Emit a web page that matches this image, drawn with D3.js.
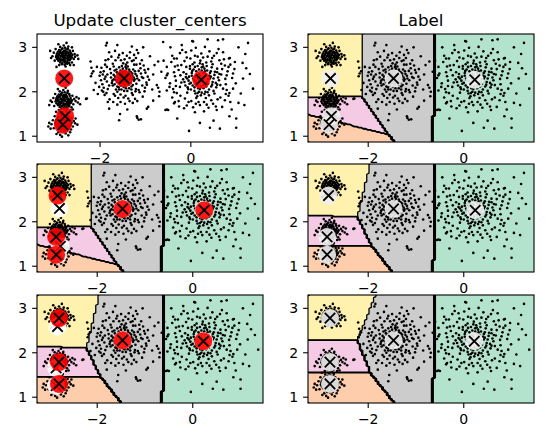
<!DOCTYPE html>
<html><head><meta charset="utf-8">
<script src="https://cdn.jsdelivr.net/npm/d3@7"></script>
<style>body{margin:0;background:#fff} svg{display:block} text{font-family:"DejaVu Sans",sans-serif;fill:#000}</style>
</head><body><svg id="chart" width="548" height="445"></svg>
<script>
// ---------------- data ----------------
const titles = ["Update cluster_centers", "Label"];
const xTicks = [-2, 0];
const yTicks = [1, 2, 3];
// Pastel2 colours for labels 0..4
const regionColors = ["#b3e2cd", "#fdcdac", "#f4cae4", "#fff2ae", "#cccccc"];
// centroids ordered by label (green, orange, pink, yellow, gray)
const centroidsIter1 = [[0.23,2.27],[-2.82,1.26],[-2.77,1.45],[-2.79,2.30],[-1.47,2.30]];
const centroidsIter2 = [[0.24,2.26],[-2.86,1.26],[-2.86,1.66],[-2.83,2.59],[-1.47,2.29]];
const centroidsIter3 = [[0.22,2.26],[-2.80,1.30],[-2.80,1.79],[-2.80,2.78],[-1.47,2.28]];

const blobTop = [[-2.83,2.98],[-2.77,2.99],[-2.71,2.97],[-2.90,2.94],[-2.85,2.95],[-2.79,2.93],[-2.74,2.95],[-2.67,2.93],
[-2.93,2.90],[-2.88,2.91],[-2.82,2.89],[-2.77,2.91],[-2.72,2.90],[-2.66,2.89],[-2.95,2.86],[-2.90,2.85],[-2.85,2.87],[-2.80,2.86],[-2.75,2.85],[-2.70,2.87],[-2.64,2.86],
[-2.96,2.82],[-2.91,2.83],[-2.86,2.81],[-2.81,2.82],[-2.76,2.83],[-2.71,2.81],[-2.66,2.82],[-2.61,2.83],[-2.97,2.78],[-2.92,2.77],[-2.87,2.79],[-2.82,2.78],[-2.77,2.77],[-2.72,2.79],[-2.67,2.78],[-2.62,2.77],
[-2.95,2.74],[-2.90,2.75],[-2.85,2.73],[-2.80,2.74],[-2.75,2.75],[-2.70,2.73],[-2.65,2.74],[-2.92,2.70],[-2.87,2.69],[-2.82,2.71],[-2.77,2.70],[-2.72,2.69],[-2.67,2.71],
[-2.88,2.66],[-2.83,2.65],[-2.78,2.67],[-2.73,2.66],[-2.68,2.65],[-2.84,2.62],[-2.78,2.61],[-2.72,2.63],
[-2.88,2.88],[-2.80,2.90],[-2.74,2.88],[-2.93,2.80],[-2.84,2.84],[-2.79,2.80],[-2.69,2.84],[-2.64,2.79],[-2.89,2.72],[-2.80,2.70],[-2.70,2.76],[-2.75,2.64],
[-3.02,2.88],[-3.05,2.80],[-3.00,2.70],[-2.98,2.96],[-2.56,2.85],[-2.58,2.74],[-2.55,2.79],[-2.60,2.92],[-2.62,2.66],[-2.70,3.02],[-2.80,3.04],[-2.88,3.01],
[-2.90,2.60],[-2.76,2.57],[-2.66,2.60],[-3.08,2.76],[-2.50,2.82],[-2.92,3.07],[-2.74,3.10],[-2.62,3.00],[-3.10,2.92],[-2.96,2.56],[-2.58,2.60],[-2.48,2.74]];

const blobMid = [[-2.84,1.98],[-2.78,1.99],[-2.72,1.98],[-2.91,1.94],[-2.86,1.95],[-2.80,1.93],[-2.75,1.94],[-2.68,1.95],
[-2.94,1.90],[-2.89,1.89],[-2.83,1.91],[-2.78,1.90],[-2.73,1.89],[-2.67,1.91],[-2.96,1.86],[-2.91,1.87],[-2.86,1.85],[-2.81,1.86],[-2.76,1.87],[-2.71,1.85],[-2.65,1.86],
[-2.97,1.82],[-2.92,1.81],[-2.87,1.83],[-2.82,1.82],[-2.77,1.81],[-2.72,1.83],[-2.67,1.82],[-2.62,1.81],[-2.98,1.78],[-2.93,1.79],[-2.88,1.77],[-2.83,1.78],[-2.78,1.79],[-2.73,1.77],[-2.68,1.78],[-2.63,1.79],
[-2.96,1.74],[-2.91,1.73],[-2.86,1.75],[-2.81,1.74],[-2.76,1.73],[-2.71,1.75],[-2.66,1.74],[-2.93,1.70],[-2.88,1.71],[-2.83,1.69],[-2.78,1.70],[-2.73,1.71],[-2.68,1.69],
[-2.89,1.66],[-2.84,1.67],[-2.79,1.65],[-2.74,1.66],[-2.69,1.67],[-2.85,1.62],[-2.79,1.61],[-2.73,1.62],
[-2.88,1.92],[-2.81,1.89],[-2.75,1.91],[-2.94,1.84],[-2.84,1.80],[-2.79,1.84],[-2.70,1.80],[-2.64,1.76],[-2.90,1.76],[-2.80,1.72],[-2.70,1.72],[-2.77,1.64],
[-3.03,1.86],[-3.06,1.77],[-3.01,1.68],[-2.99,1.95],[-2.57,1.84],[-2.59,1.72],[-2.54,1.79],[-2.61,1.91],[-2.63,1.65],[-2.71,2.02],[-2.81,2.04],[-2.89,2.01],
[-2.91,1.59],[-2.75,1.56],[-2.65,1.59],[-3.09,1.80],[-2.49,1.76],[-2.93,2.06],[-2.76,2.09],[-2.52,1.88],[-2.44,1.72],[-3.12,1.70],[-2.97,1.55],[-2.60,1.60]];

const blobLow = [[-2.85,1.48],[-2.79,1.49],[-2.73,1.47],[-2.92,1.44],[-2.86,1.45],[-2.81,1.43],[-2.75,1.44],[-2.69,1.45],
[-2.95,1.40],[-2.89,1.39],[-2.84,1.41],[-2.79,1.40],[-2.74,1.39],[-2.68,1.41],[-2.97,1.36],[-2.92,1.37],[-2.87,1.35],[-2.82,1.36],[-2.77,1.37],[-2.72,1.35],[-2.66,1.36],
[-2.98,1.32],[-2.93,1.31],[-2.88,1.33],[-2.83,1.32],[-2.78,1.31],[-2.73,1.33],[-2.68,1.32],[-2.63,1.31],[-2.99,1.28],[-2.94,1.29],[-2.89,1.27],[-2.84,1.28],[-2.79,1.29],[-2.74,1.27],[-2.69,1.28],[-2.64,1.29],
[-2.97,1.24],[-2.92,1.23],[-2.87,1.25],[-2.82,1.24],[-2.77,1.23],[-2.72,1.25],[-2.67,1.24],[-2.94,1.20],[-2.89,1.21],[-2.84,1.19],[-2.79,1.20],[-2.74,1.21],[-2.69,1.19],
[-2.90,1.16],[-2.85,1.17],[-2.80,1.15],[-2.75,1.16],[-2.70,1.17],[-2.86,1.12],[-2.80,1.11],[-2.74,1.12],
[-2.89,1.42],[-2.82,1.39],[-2.76,1.41],[-2.95,1.34],[-2.85,1.30],[-2.80,1.34],[-2.71,1.30],[-2.65,1.26],[-2.91,1.26],[-2.81,1.22],[-2.71,1.22],[-2.78,1.14],
[-3.04,1.36],[-3.07,1.27],[-3.02,1.18],[-3.09,1.17],[-2.84,0.99],[-2.58,1.34],[-2.60,1.22],[-2.55,1.29],[-2.62,1.41],[-2.64,1.15],[-2.72,1.52],[-2.82,1.54],
[-2.90,1.51],[-2.92,1.09],[-2.76,1.06],[-2.66,1.09],[-3.12,1.30],[-2.50,1.26],[-2.96,1.05],[-2.70,1.02],[-3.00,1.45],[-2.54,1.40],[-3.14,1.22],[-2.88,1.03]];

const blobCenter = [[-1.47,2.30],[-1.40,2.35],[-1.55,2.25],[-1.52,2.38],[-1.42,2.22],[-1.60,2.32],[-1.35,2.30],[-1.48,2.45],[-1.45,2.15],[-1.58,2.42],
[-1.38,2.42],[-1.56,2.18],[-1.33,2.20],[-1.66,2.27],[-1.29,2.36],[-1.50,2.52],[-1.43,2.08],[-1.70,2.38],[-1.25,2.25],[-1.62,2.12],
[-1.36,2.50],[-1.53,2.05],[-1.31,2.12],[-1.68,2.48],[-1.22,2.40],[-1.74,2.20],[-1.44,2.56],[-1.58,2.55],[-1.27,2.50],[-1.40,2.02],
[-1.65,2.05],[-1.20,2.18],[-1.76,2.32],[-1.50,2.28],[-1.44,2.33],[-1.39,2.27],[-1.54,2.33],[-1.46,2.24],[-1.49,2.37],[-1.41,2.39],
[-1.57,2.28],[-1.34,2.37],[-1.61,2.40],[-1.37,2.16],[-1.51,2.19],[-1.63,2.22],[-1.30,2.28],[-1.45,2.46],[-1.55,2.48],[-1.32,2.44],
[-1.48,2.11],[-1.59,2.10],[-1.26,2.32],[-1.70,2.28],[-1.42,2.52],[-1.36,2.08],[-1.64,2.50],[-1.23,2.46],[-1.72,2.14],[-1.52,2.58],
[-1.28,2.15],[-1.47,2.02],[-1.18,2.30],[-1.76,2.42],[-1.39,2.57],[-1.62,2.00],[-1.21,2.06],[-1.56,2.42],[-1.43,2.28],[-1.50,2.40],
[-1.46,2.34],[-1.53,2.29],[-1.41,2.31],[-1.49,2.21],[-1.57,2.36],[-1.37,2.24],[-1.44,2.41],[-1.61,2.26],[-1.33,2.33],[-1.51,2.44],
[-1.40,2.19],[-1.67,2.34],[-1.29,2.41],[-1.54,2.14],[-1.35,2.46],[-1.46,2.17],[-1.63,2.44],[-1.24,2.28],[-1.58,2.05],[-1.43,2.61],
[-1.73,2.25],[-1.31,2.05],[-1.68,2.17],[-1.19,2.36],[-1.49,2.64],
[-1.05,2.31],[-1.90,2.29],[-1.46,2.73],[-1.48,1.87],[-1.11,2.53],[-1.85,2.56],[-1.15,2.04],[-1.83,2.06],[-1.30,2.69],[-1.66,2.71],
[-1.28,1.93],[-1.67,1.91],[-1.00,2.43],[-1.95,2.17],[-1.07,2.14],[-1.92,2.46],[-1.21,2.76],[-1.75,2.79],[-1.23,1.84],[-1.79,1.83],
[-0.98,2.21],[-2.01,2.36],[-1.41,2.81],[-1.55,1.77],[-1.12,2.63],[-1.89,2.61],[-1.13,1.99],[-1.86,1.97],[-1.35,1.79],[-1.58,2.83],
[-0.95,2.34],[-1.98,2.26],[-1.04,2.59],[-1.97,2.54],[-1.02,2.01],[-1.96,2.03],[-1.25,2.83],[-1.71,1.77],[-1.18,1.79],[-1.82,2.73],
[-0.92,2.27],[-1.94,2.39],[-1.01,2.09],[-1.08,2.71],[-1.90,1.93],[-1.34,2.89],[-1.62,1.71],[-1.45,1.73],[-1.50,2.87],[-1.28,1.75],
[-1.06,1.89],[-1.80,2.89],[-1.16,2.87],[-1.88,2.71],[-0.94,2.51],[-2.02,2.11],[-1.60,1.86],[-1.38,1.85],[-1.72,2.63],[-1.20,2.61],
[-1.10,2.41],[-1.84,2.39],[-1.14,2.26],[-1.85,2.23],[-1.25,2.61],[-1.70,2.57],[-1.30,1.97],[-1.70,1.95],[-1.40,2.66],[-1.55,1.94],
[-0.97,2.16],[-1.99,2.44],[-1.22,2.01],[-1.78,2.51],[-1.02,2.49],[-1.92,2.09],[-1.35,2.76],[-1.60,2.77],[-1.44,1.91],[-1.15,2.47],
[-1.80,2.14],[-1.08,2.33],[-1.88,2.34],[-1.54,2.71],[-1.26,2.71],
[-1.87,3.04],[-1.67,2.92],[-2.15,2.46],[-2.20,2.35],[-1.58,1.36],[-1.18,1.41],[-1.15,1.37],[-2.31,1.84],[-0.90,2.80],[-0.83,2.39],
[-0.83,1.80],[-0.72,2.09],[-0.69,2.00],[-1.19,2.94],[-1.56,1.50],[-1.19,1.45],[-1.10,1.38],[-0.94,1.66],[-0.97,1.62],[-2.07,2.56],
[-1.93,2.00],[-1.83,1.77],[-2.10,2.20],[-1.30,3.02],[-1.05,3.00],[-0.80,2.60],[-1.80,1.62],[-2.05,1.95],[-0.85,2.05],[-1.62,3.05],
[-1.40,1.60],[-2.21,2.68],[-2.19,2.54],[-2.18,2.41],[-2.14,2.04],[-2.29,1.85],[-2.47,1.85],[-0.72,2.68],[-1.85,3.10]];

const blobRight = [[0.22,2.27],[0.30,2.33],[0.12,2.20],[0.18,2.40],[0.28,2.15],[0.05,2.30],[0.38,2.28],[0.24,2.48],[0.20,2.06],[0.02,2.42],
[0.42,2.42],[0.08,2.10],[0.45,2.12],[-0.05,2.25],[0.50,2.30],[0.15,2.58],[0.32,2.00],[-0.02,2.52],[0.55,2.20],[0.00,2.05],
[0.35,2.58],[0.10,1.96],[0.50,2.02],[-0.10,2.40],[0.58,2.44],[-0.12,2.14],[0.26,2.62],[0.04,2.62],[0.46,2.55],[0.22,1.92],
[0.40,1.92],[-0.08,1.98],[0.60,2.32],[0.16,2.30],[0.26,2.24],[0.20,2.36],[0.33,2.40],[0.10,2.34],[0.28,2.08],[0.14,2.14],
[0.38,2.18],[0.06,2.50],[0.44,2.34],[0.00,2.20],[0.24,2.55],[0.18,2.00],[0.52,2.38],[-0.04,2.34],[0.36,2.48],[0.12,2.46],
[0.30,1.95],[0.08,2.02],[0.48,2.22],[-0.08,2.30],[0.56,2.10],[0.20,2.64],[0.40,2.05],[-0.02,2.58],[0.58,2.52],[-0.14,2.22],
[0.14,1.90],[0.34,2.66],[0.62,2.26],[-0.16,2.44],[0.28,2.42],[0.10,2.24],[0.44,2.46],[0.04,2.14],[0.34,2.12],[0.18,2.50],
[0.24,1.98],[0.48,2.62],[-0.06,2.06],[0.52,1.96],[-0.10,2.56],[0.08,2.66],[0.40,2.36],[0.02,2.36],[0.30,2.52],[0.16,2.08],
[0.19,2.24],[0.26,2.30],[0.13,2.38],[0.35,2.22],[0.07,2.26],[0.31,2.46],[0.22,2.12],[0.42,2.30],[0.03,2.47],[0.47,2.16],
[-0.03,2.18],[0.27,2.57],[0.15,1.97],[0.53,2.45],[-0.11,2.33],[0.37,1.99],[0.09,2.56],[0.58,2.16],[0.21,2.70],[-0.07,2.10],
[0.45,2.68],[0.12,1.86],[0.63,2.40],[-0.17,2.28],[0.33,1.86],
[0.76,2.29],[-0.33,2.25],[0.23,2.86],[0.20,1.70],[0.67,2.63],[-0.21,2.60],[0.65,1.87],[-0.23,1.91],[0.51,2.81],[-0.09,2.77],
[0.49,1.73],[-0.05,1.77],[0.81,2.46],[-0.37,2.44],[0.79,2.04],[-0.39,2.06],[0.41,2.91],[0.01,2.93],[0.39,1.64],[0.05,1.65],
[0.91,2.31],[-0.46,2.19],[0.73,2.73],[-0.31,2.75],[0.75,1.81],[-0.27,1.79],[0.61,2.96],[-0.19,2.94],[0.57,1.59],[-0.15,1.63],
[0.96,2.51],[-0.51,2.41],[0.93,2.07],[-0.53,2.03],[0.31,3.01],[0.11,2.99],[0.29,1.56],[0.09,1.54],[0.87,2.61],[-0.43,2.67],
[0.83,1.91],[-0.41,1.87],[0.69,2.51],[-0.27,2.49],[0.71,2.07],[-0.24,2.11],[0.63,2.71],[-0.14,2.69],[0.59,1.83],[-0.13,1.85],
[0.79,2.37],[-0.35,2.35],[0.77,2.17],[-0.33,2.13],[0.47,2.76],[-0.01,2.75],[0.45,1.81],[0.01,1.79],[0.86,2.76],[-0.41,2.81],
[0.87,1.77],[-0.37,1.74],[0.71,2.89],[-0.24,2.87],[0.69,1.66],[-0.26,1.67],[0.99,2.19],[-0.56,2.31],[0.37,2.79],[0.09,2.81],
[0.35,1.71],[0.11,1.73],[0.83,2.56],[-0.35,2.57],[0.85,1.97],[-0.37,1.99],[0.57,2.87],[-0.11,2.89],[0.55,1.67],[-0.09,1.69],
[0.93,2.41],[-0.47,2.11],[0.67,2.39],[-0.23,2.37],[0.65,2.15],[-0.21,2.21],[0.27,2.77],[0.15,2.79],[0.29,1.77],[0.17,1.77],
[0.75,2.59],[-0.29,2.59],[0.77,1.95],[-0.31,1.97],[0.97,2.67],
[1.26,3.10],[1.37,2.07],[-0.04,1.12],[0.42,1.19],[0.64,1.17],[1.00,1.19],[0.71,3.18],[0.37,3.18],[0.05,3.13],[1.00,1.40],
[1.10,1.96],[1.22,2.53],[1.14,2.65],[0.84,2.75],[-0.61,3.12],[-0.53,1.60],[0.03,3.14],[0.60,3.16],[-0.35,1.77],[-0.37,2.75],
[1.15,2.30],[1.05,1.75],[-0.65,2.45],[-0.70,1.90],[1.20,2.85],[-0.45,3.00],[0.20,1.30],[0.85,1.45],[-0.30,1.40],[1.30,2.40],
[-0.75,2.15],[1.05,3.00],[0.50,1.35],[-0.20,3.05],[0.90,1.60],[1.18,1.70],[-0.60,2.70],[-0.56,1.59],[-0.50,1.59],[-0.53,2.56],[-0.53,2.37]];

const points = [].concat(blobTop, blobMid, blobLow, blobCenter, blobRight);

// ---------------- layout ----------------
const colLeft = [37, 308], rowTop = [34, 164, 295];
const W = 226, H = 108;
const xDomainData = [-3.39, 1.59];     // autoscaled plot of the data only
const xDomainRegions = [-3.26, 1.47];  // decision-boundary panels
const yDomain = [0.87, 3.30];
const R = 100;

const panels = [
  {col:0,row:0, regions:null,           prev:null,           cur:centroidsIter1, curFill:"#ff0000", title:titles[0], xdom:xDomainData},
  {col:1,row:0, regions:centroidsIter1, prev:null,           cur:centroidsIter1, curFill:"#f0f0f0", title:titles[1], xdom:xDomainRegions},
  {col:0,row:1, regions:centroidsIter1, prev:centroidsIter1, cur:centroidsIter2, curFill:"#ff0000", xdom:xDomainRegions},
  {col:1,row:1, regions:centroidsIter2, prev:null,           cur:centroidsIter2, curFill:"#f0f0f0", xdom:xDomainRegions},
  {col:0,row:2, regions:centroidsIter2, prev:centroidsIter2, cur:centroidsIter3, curFill:"#ff0000", xdom:xDomainRegions},
  {col:1,row:2, regions:centroidsIter3, prev:null,           cur:centroidsIter3, curFill:"#f0f0f0", xdom:xDomainRegions}
];

const svg = d3.select("#chart");
const defs = svg.append("defs");

function nearest(c, px, py) {
  let best = 0, bd = Infinity;
  c.forEach((p, k) => { const d = (p[0]-px)**2 + (p[1]-py)**2; if (d < bd) { bd = d; best = k; } });
  return best;
}

function drawCentroids(g, x, y, cents, fill) {
  const cg = g.append("g");
  cg.selectAll("circle").data(cents).join("circle")
    .attr("cx", d => x(d[0])).attr("cy", d => y(d[1])).attr("r", 9)
    .attr("fill", fill).attr("fill-opacity", 0.9);
  const s = 5.2;
  cg.selectAll("path").data(cents).join("path")
    .attr("d", d => { const cx = x(d[0]), cy = y(d[1]);
      return `M${cx-s},${cy-s}L${cx+s},${cy+s}M${cx-s},${cy+s}L${cx+s},${cy-s}`; })
    .attr("stroke", "#000").attr("stroke-width", 1.8).attr("fill", "none");
}

panels.forEach((p, pi) => {
  const left = colLeft[p.col], top = rowTop[p.row];
  const x = d3.scaleLinear().domain(p.xdom).range([left, left + W]);
  const y = d3.scaleLinear().domain(yDomain).range([top + H, top]);
  const g = svg.append("g");
  const clipId = "clip" + pi;
  defs.append("clipPath").attr("id", clipId).append("rect")
    .attr("x", left).attr("y", top).attr("width", W).attr("height", H);
  g.append("rect").attr("x", left).attr("y", top).attr("width", W).attr("height", H).attr("fill", "#fff");
  const plot = g.append("g").attr("clip-path", `url(#${clipId})`);

  if (p.regions) {
    const gx = d3.scaleLinear().domain([0, R]).range(p.xdom);
    const gy = d3.scaleLinear().domain([0, R]).range([yDomain[1], yDomain[0]]);
    const values = new Array(R * R);
    for (let j = 0; j < R; j++) for (let i = 0; i < R; i++)
      values[j * R + i] = nearest(p.regions, gx(i + 0.5), gy(j + 0.5));
    const proj = pt => [x(gx(pt[0])), y(gy(pt[1]))];
    plot.append("rect").attr("x", left).attr("y", top).attr("width", W).attr("height", H).attr("fill", regionColors[0]);
    const fills = d3.contours().size([R, R]).thresholds([0.5, 1.5, 2.5, 3.5])(values);
    fills.forEach((c, k) => {
      const d = c.coordinates.map(poly => poly.map(ring => "M" + ring.map(pt => proj(pt).join(",")).join("L") + "Z").join("")).join("");
      plot.append("path").attr("d", d).attr("fill", regionColors[k + 1]).attr("stroke", "none");
    });
    const lines = d3.contours().size([R, R]).thresholds([0.5, 1, 1.5, 2, 2.5, 3, 3.5])(values);
    const onBorder = (a, b) => (a[0] === 0 && b[0] === 0) || (a[0] === R && b[0] === R) || (a[1] === 0 && b[1] === 0) || (a[1] === R && b[1] === R);
    lines.forEach(c => {
      let d = "";
      c.coordinates.forEach(poly => poly.forEach(ring => {
        let pen = false;
        for (let k = 1; k < ring.length; k++) {
          const a = ring[k - 1], b = ring[k];
          if (onBorder(a, b)) { pen = false; continue; }
          if (!pen) { d += "M" + proj(a).join(","); pen = true; }
          d += "L" + proj(b).join(",");
        }
      }));
      plot.append("path").attr("d", d).attr("fill", "none").attr("stroke", "#000").attr("stroke-width", 1.3).attr("stroke-linejoin", "round");
    });
  }

  plot.append("g").selectAll("circle").data(points).join("circle")
    .attr("cx", d => x(d[0])).attr("cy", d => y(d[1])).attr("r", 1.3).attr("fill", "#000");

  if (p.prev) drawCentroids(plot, x, y, p.prev, "#ffffff");
  drawCentroids(plot, x, y, p.cur, p.curFill);

  // frame
  g.append("rect").attr("x", left).attr("y", top).attr("width", W).attr("height", H)
    .attr("fill", "none").attr("stroke", "#000").attr("stroke-width", 1.1);

  // ticks
  const tl = 4.9, pad = 4.9;
  xTicks.forEach(t => {
    const px = x(t);
    g.append("line").attr("x1", px).attr("x2", px).attr("y1", top + H).attr("y2", top + H + tl).attr("stroke", "#000").attr("stroke-width", 1.1);
    g.append("text").attr("x", px).attr("y", top + H + tl + pad).attr("dy", "0.8em").attr("text-anchor", "middle")
      .attr("font-size", "14px").text(d3.format("")(t).replace("-", "\u2212"));
  });
  yTicks.forEach(t => {
    const py = y(t);
    g.append("line").attr("x1", left - tl).attr("x2", left).attr("y1", py).attr("y2", py).attr("stroke", "#000").attr("stroke-width", 1.1);
    g.append("text").attr("x", left - tl - pad).attr("y", py).attr("dy", "0.36em").attr("text-anchor", "end")
      .attr("font-size", "14px").text(t);
  });
  if (p.title) {
    g.append("text").attr("x", left + W / 2).attr("y", top - 8).attr("text-anchor", "middle")
      .attr("font-size", "16.7px").text(p.title);
  }
});
</script></body></html>
